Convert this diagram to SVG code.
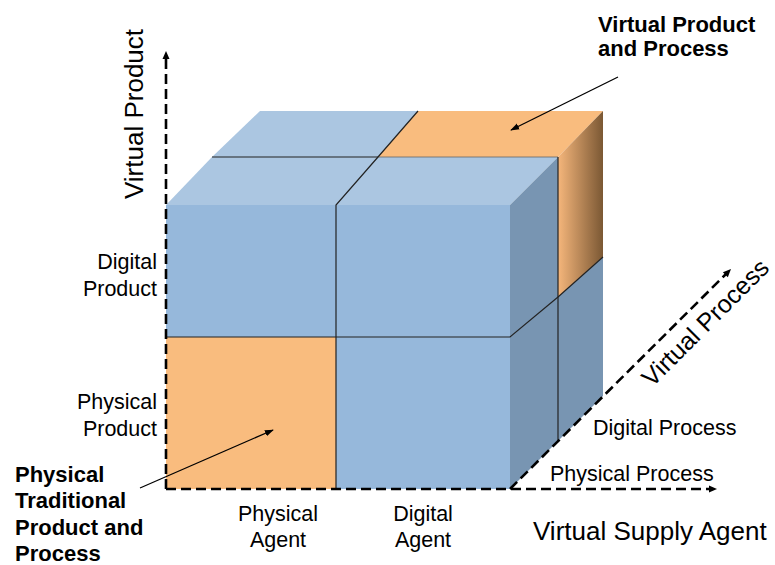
<svg xmlns="http://www.w3.org/2000/svg" width="775" height="565" viewBox="0 0 775 565">
<defs>
<linearGradient id="og" x1="0" y1="0" x2="1" y2="0">
<stop offset="0" stop-color="#f5b67b"/>
<stop offset="1" stop-color="#7b5834"/>
</linearGradient>
<marker id="ah2" viewBox="0 0 10 10" refX="9" refY="5" markerWidth="9" markerHeight="9" orient="auto" markerUnits="userSpaceOnUse">
<path d="M0,1.5 L10,5 L0,8.5 z" fill="#000"/>
</marker>
<path id="axhead" d="M0,0 L-8,-3.5 L-8,3.5 z" fill="#000"/>
</defs>
<style>
text{font-family:"Liberation Sans",Arial,sans-serif;fill:#000}
.lab{font-size:21.5px}
.big{font-size:26px}
.bold{font-size:22px;font-weight:bold}
.front{fill:#96b8db}
.top{fill:#abc6e1}
.side{fill:#7895b2}
.or{fill:#f9bc7e}
.edge{stroke:#222;stroke-width:1.2;fill:none}
.axis{stroke:#000;stroke-width:2.6;stroke-dasharray:10,5;fill:none}
.ann{stroke:#000;stroke-width:1.3;fill:none}
</style>

<g id="cube">
<g id="top-faces">
<polygon class="top" points="212,157 378,157 418,111 260,111"/>
<polygon class="or" points="378,157 558,157 603,111 418,111"/>
<polygon class="top" points="166,205 336,205 378,157 212,157"/>
<polygon class="top" points="336,205 510,205 558,157 378,157"/>
</g>
<g id="side-faces">
<polygon fill="url(#og)" points="558,157 603,111 603,257 558,297"/>
<polygon class="side" points="558,297 603,257 603,396 558,441"/>
<polygon class="side" points="510,205 558,157 558,297 510,337"/>
<polygon class="side" points="510,337 558,297 558,441 510,489"/>
</g>
<g id="front-faces">
<rect class="front" x="166" y="205" width="170" height="132"/>
<rect class="front" x="336" y="205" width="174" height="132"/>
<rect class="or" x="166" y="337" width="170" height="152"/>
<rect class="front" x="336" y="337" width="174" height="152"/>
</g>
<g id="edges">
<line class="edge" x1="212" y1="157" x2="378" y2="157"/>
<line x1="378" y1="157" x2="558" y2="157" stroke="#666" stroke-width="0.8"/>
<polyline class="edge" points="418,111 378,157 336,205 336,489"/>
<polyline class="edge" points="166,337 510,337 558,297 603,257"/>
<line class="edge" x1="558" y1="157" x2="558" y2="441"/>
</g>
</g>

<g id="connectors">
<line class="axis" x1="166" y1="489" x2="166" y2="58"/>
<use href="#axhead" transform="translate(166,51) rotate(-90)"/>
<line class="axis" x1="166" y1="489" x2="710" y2="489"/>
<use href="#axhead" transform="translate(717,489)"/>
<line class="axis" x1="510" y1="489" x2="726" y2="274"/>
<use href="#axhead" transform="translate(731,269) rotate(-45)"/>
<line class="ann" x1="618" y1="77" x2="511" y2="130" marker-end="url(#ah2)"/>
<line class="ann" x1="140" y1="488" x2="273" y2="430" marker-end="url(#ah2)"/>
</g>

<g id="labels">
<text class="big" transform="translate(143,114) rotate(-90)" text-anchor="middle">Virtual Product</text>
<text transform="translate(652,388) rotate(-45)" style="font-size:25px">Virtual Process</text>
<text class="big" x="533" y="540">Virtual Supply Agent</text>
<text class="lab" text-anchor="end" x="157" y="269">Digital</text>
<text class="lab" text-anchor="end" x="157" y="296">Product</text>
<text class="lab" text-anchor="end" x="157" y="409">Physical</text>
<text class="lab" text-anchor="end" x="157" y="436">Product</text>
<text class="lab" x="593" y="435">Digital Process</text>
<text class="lab" x="550" y="481">Physical Process</text>
<text class="lab" text-anchor="middle" x="278" y="521">Physical</text>
<text class="lab" text-anchor="middle" x="278" y="547">Agent</text>
<text class="lab" text-anchor="middle" x="423" y="521">Digital</text>
<text class="lab" text-anchor="middle" x="423" y="547">Agent</text>
<text class="bold" x="598" y="32">Virtual Product</text>
<text class="bold" x="598" y="56">and Process</text>
<text class="bold" x="15" y="482">Physical</text>
<text class="bold" x="15" y="508">Traditional</text>
<text class="bold" x="15" y="535">Product and</text>
<text class="bold" x="15" y="561">Process</text>
</g>
</svg>
